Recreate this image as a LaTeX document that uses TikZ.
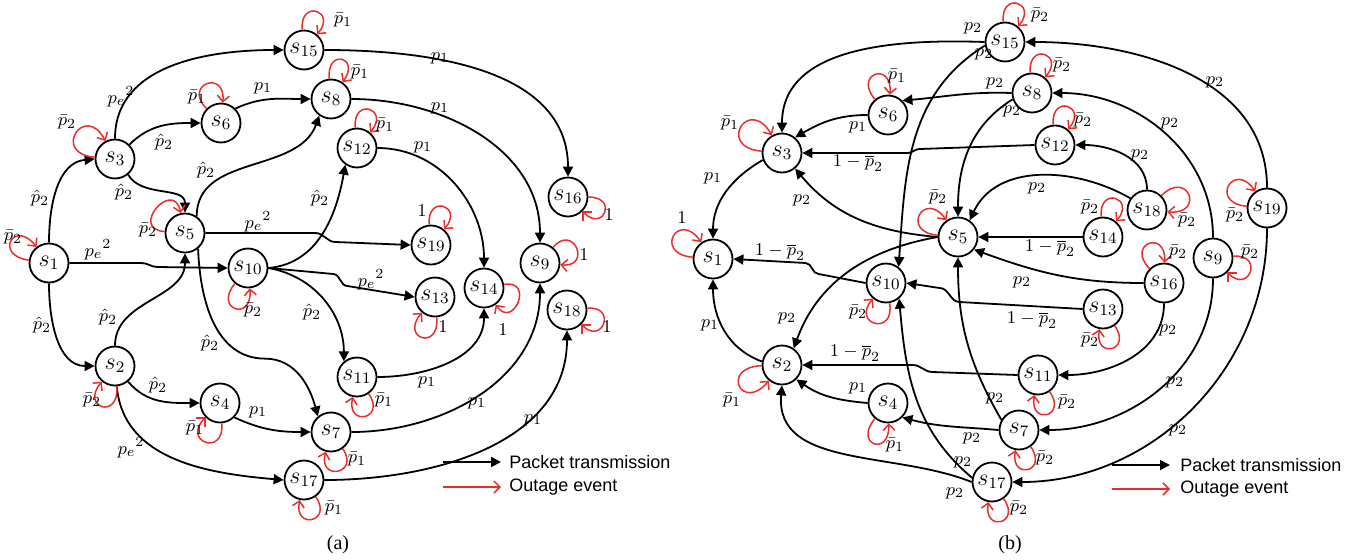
\documentclass[tikz,border=0pt]{standalone}
\usepackage{fontspec}
\newfontfamily\legendfont{Liberation Sans}
\newfontfamily\capfont{Liberation Serif}
\usetikzlibrary{arrows.meta}
\definecolor{outred}{RGB}{235,45,45}
\newcommand\nodesize{\fontsize{12}{14}\selectfont}
\newcommand\labsize{\fontsize{9.5}{11}\selectfont}
\tikzset{
  st/.style={circle,draw,line width=0.9pt,minimum size=19.5pt,inner sep=0pt,font=\nodesize},
  pk/.style={line width=0.9pt,-{Triangle[length=5pt,width=5pt]}},
  og/.style={draw=outred,line width=0.75pt,-{Straight Barb[length=3pt,width=6pt]}},
  lbl/.style={font=\labsize,inner sep=0pt},
  legtext/.style={anchor=west,inner sep=0pt,font=\legendfont\fontsize{9}{11}\selectfont},
  capt/.style={inner sep=0pt,font=\capfont\fontsize{10}{12}\selectfont},
}
% self-loop: [control length]{node}{leaving angle}{arriving angle}
\newcommand\oloop[4][34]{\draw[og] (#2.#3) .. controls +(#3:#1) and +(#4:#1) .. (#2.#4);}
% edge label: {name}{x}{y}{math}
\newcommand\elab[4]{\node[lbl] (#1) at (#2,#3) {$#4$};}
% complement probability 1 - p-bar
\newcommand\onemp{1-\overline{p}_2}
\begin{document}
\begin{tikzpicture}[x=0.5pt,y=0.5pt]
\useasboundingbox (0,0) rectangle (1358,559);

% ---------------- panel (a) ----------------
\node[st] (a1) at (49,296) {$s_1$};
\node[st] (a2) at (115,193) {$s_2$};
\node[st] (a3) at (115,400) {$s_3$};
\node[st] (a4) at (220,156) {$s_4$};
\node[st] (a5) at (185,326) {$s_5$};
\node[st] (a6) at (221,436) {$s_6$};
\node[st] (a7) at (331,127) {$s_7$};
\node[st] (a8) at (331,460) {$s_8$};
\node[st] (a9) at (540,296) {$s_9$};
\node[st] (a10) at (248,291) {$s_{10}$};
\node[st] (a11) at (357,182) {$s_{11}$};
\node[st] (a12) at (357,411) {$s_{12}$};
\node[st] (a13) at (435,262) {$s_{13}$};
\node[st] (a14) at (484,271) {$s_{14}$};
\node[st] (a15) at (304,509) {$s_{15}$};
\node[st] (a16) at (568,362) {$s_{16}$};
\node[st] (a17) at (304,79) {$s_{17}$};
\node[st] (a18) at (567,249) {$s_{18}$};
\node[st] (a19) at (431,314) {$s_{19}$};

\draw[pk] (a1.north) to[out=90,in=185] (a3.west);
\draw[pk] (a1.south) to[out=-90,in=180] (a2.west);
\draw[pk] (a1.east) -- ++(72,0) to[out=0,in=180] ++(16,-4) -- (a10.west);
\draw[pk] (a3.north) to[out=90,in=180] (a15.west);
\draw[pk] (a3.45) to[out=45,in=180] (a6.west);
\draw[pk] (a3.-50) to[out=-60,in=90] (a5.north);
\draw[pk] (a6.45) to[out=25,in=180] (a8.west);
\draw[pk] (a5.55) to[out=90,in=-110] (a8.235);
\draw[pk] (a5.east) -- ++(110,0) to[out=0,in=180] ++(20,-9) -- (a19.west);
\draw[pk] (a5.-50) to[out=-88,in=180] ++(67,-110) to[out=0,in=105] (a7.130);
\draw[pk] (a2.north) to[out=90,in=-90] (a5.south);
\draw[pk] (a2.-50) to[out=-50,in=180] (a4.west);
\draw[pk] (a2.-85) to[out=-85,in=175] (a17.west);
\draw[pk] (a4.-45) to[out=-25,in=180] (a7.west);
\draw[pk] (a10.east) to[out=5,in=-100] (a12.235);
\draw[pk] (a10.east) -- ++(65,-6) to[out=-5,in=180] ++(14,-12) -- (a13.west);
\draw[pk] (a10.east) to[out=-10,in=90] (a11.130);
\draw[pk] (a11.east) to[out=0,in=-90] (a14.south);
\draw[pk] (a12.east) to[out=0,in=90] (a14.north);
\draw[pk] (a15.east) to[out=0,in=90] (a16.north);
\draw[pk] (a8.east) to[out=0,in=90] (a9.north);
\draw[pk] (a7.east) to[out=0,in=-90] (a9.south);
\draw[pk] (a17.east) to[out=0,in=-90] (a18.south);

\oloop[36]{a1}{172}{128}
\oloop[44]{a3}{175}{118}
\oloop[36]{a5}{176}{102}
\oloop{a6}{135}{85}
\oloop[31]{a15}{95}{50}
\oloop[31]{a8}{95}{55}
\oloop[31]{a12}{95}{50}
\oloop[30]{a16}{0}{-45}
\oloop[31]{a19}{95}{50}
\oloop[32]{a9}{50}{-5}
\oloop{a10}{-130}{-85}
\oloop{a2}{-85}{-130}
\oloop{a4}{-85}{-135}
\oloop[31]{a7}{-55}{-105}
\oloop[31]{a11}{-55}{-102}
\oloop[31]{a17}{-55}{-102}
\oloop{a13}{-85}{-130}
\oloop[31]{a14}{10}{-55}
\oloop[30]{a18}{5}{-45}

\elab{la1}{13}{322}{\bar{p}_2}
\elab{la2}{40}{361}{\hat{p}_2}
\elab{la3}{98}{309}{{p_e}^2}
\elab{la4}{42}{234}{\hat{p}_2}
\elab{la5}{67}{437}{\bar{p}_2}
\elab{la6}{121}{462}{{p_e}^2}
\elab{la7}{164}{417}{\hat{p}_2}
\elab{la8}{124}{367}{\hat{p}_2}
\elab{la9}{197}{462}{\bar{p}_1}
\elab{la10}{263}{471}{p_1}
\elab{la11}{343}{539}{\bar{p}_1}
\elab{la12}{440}{501}{p_1}
\elab{la13}{360}{487}{\bar{p}_1}
\elab{la14}{440}{451}{p_1}
\elab{la15}{385}{434}{\bar{p}_1}
\elab{la16}{423}{412}{p_1}
\elab{la17}{206}{389}{\hat{p}_2}
\elab{la18}{148}{329}{\bar{p}_2}
\elab{la19}{258}{337}{{p_e}^2}
\elab{la20}{320}{361}{\hat{p}_2}
\elab{la21}{422}{348}{1}
\elab{la22}{609}{344}{1}
\elab{la23}{584}{304}{1}
\elab{la24}{253}{249}{\bar{p}_2}
\elab{la25}{371}{279}{{p_e}^2}
\elab{la26}{312}{247}{\hat{p}_2}
\elab{la27}{210}{216}{\hat{p}_2}
\elab{la28}{108}{242}{\hat{p}_2}
\elab{la29}{158}{174}{\hat{p}_2}
\elab{la30}{92}{159}{\bar{p}_2}
\elab{la31}{131}{111}{{p_e}^2}
\elab{la32}{258}{147}{p_1}
\elab{la33}{195}{131}{\bar{p}_1}
\elab{la34}{443}{232}{1}
\elab{la35}{503}{229}{1}
\elab{la36}{607}{232}{1}
\elab{la37}{427}{177}{p_1}
\elab{la38}{384}{159}{\bar{p}_1}
\elab{la39}{477}{156}{p_1}
\elab{la40}{357}{100}{\bar{p}_1}
\elab{la41}{533}{139}{p_1}
\elab{la42}{334}{51}{\bar{p}_1}

\coordinate (lgA1) at (443,97);
\coordinate (lgA2) at (501,97);
\coordinate (lgA3) at (443,72);
\coordinate (lgA4) at (501,72);
\draw[pk] (lgA1) -- (lgA2);
\draw[og] (lgA3) -- (lgA4);
\node[legtext] (lgAt) at (509,97) {Packet transmission};
\node[legtext] (lgAo) at (509,72) {Outage event};
\node[capt] (capA) at (338,14) {(a)};

% ---------------- panel (b) ----------------
\node[st] (b1) at (713,300) {$s_1$};
\node[st] (b2) at (782,194) {$s_2$};
\node[st] (b3) at (782,406) {$s_3$};
\node[st] (b4) at (888,156) {$s_4$};
\node[st] (b5) at (958,322) {$s_5$};
\node[st] (b6) at (888,444) {$s_6$};
\node[st] (b7) at (1019,129) {$s_7$};
\node[st] (b8) at (1032,466) {$s_8$};
\node[st] (b9) at (1213,301) {$s_9$};
\node[st] (b10) at (886,276) {$s_{10}$};
\node[st] (b11) at (1038,184) {$s_{11}$};
\node[st] (b12) at (1055,414) {$s_{12}$};
\node[st] (b13) at (1103,250) {$s_{13}$};
\node[st] (b14) at (1103,322) {$s_{14}$};
\node[st] (b15) at (1005,517) {$s_{15}$};
\node[st] (b16) at (1164,276) {$s_{16}$};
\node[st] (b17) at (992,77) {$s_{17}$};
\node[st] (b18) at (1147,349) {$s_{18}$};
\node[st] (b19) at (1267,351) {$s_{19}$};

\draw[pk] (b3.200) to[out=210,in=90] (b1.north);
\draw[pk] (b2.170) to[out=160,in=-90] (b1.south);
\draw[pk] (b15.west) to[out=178,in=90] (b3.north);
\draw[pk] (b15.190) to[out=212,in=86] (b10.52);
\draw[pk] (b19.north) to[out=90,in=0] (b15.east);
\draw[pk] (b19.south) to[out=-90,in=0] (b17.east);
\draw[pk] (b8.west) to[out=178,in=5] (b6.45);
\draw[pk] (b8.198) to[out=212,in=90] (b5.north);
\draw[pk] (b9.north) to[out=90,in=0] (b8.east);
\draw[pk] (b9.south) to[out=-90,in=0] (b7.east);
\draw[pk] (b6.west) to[out=180,in=30] (b3.50);
\draw[pk] (b12.west) -- ++(-115,-4) to[out=180,in=0] ++(-12,-4) -- (b3.east);
\draw[pk] (b18.north) to[out=90,in=0] (b12.east);
\draw[pk] (b18.145) to[out=150,in=65] (b5.55);
\draw[pk] (b14.west) -- (b5.east);
\draw[pk] (b5.west) to[out=175,in=-50] (b3.-50);
\draw[pk] (b5.west) to[out=190,in=70] (b2.55);
\draw[pk] (b16.west) to[out=180,in=-20] (b5.-38);
\draw[pk] (b16.south) to[out=-90,in=0] (b11.east);
\draw[pk] (b13.west) -- ++(-123,7) to[out=180,in=0] ++(-20,14) -- (b10.east);
\draw[pk] (b10.west) -- ++(-47,9) to[out=180,in=0] ++(-13,11) -- (b1.east);
\draw[pk] (b11.west) -- ++(-85,3) to[out=180,in=0] ++(-20,7) -- (b2.east);
\draw[pk] (b7.150) to[out=120,in=-90] (b5.south);
\draw[pk] (b7.west) to[out=175,in=-15] (b4.-45);
\draw[pk] (b4.west) to[out=175,in=-35] (b2.-45);
\draw[pk] (b17.168) to[out=140,in=-85] (b10.-50);
\draw[pk] (b17.west) to[out=158,in=-95] (b2.south);

\oloop[40]{b1}{175}{125}
\oloop[46]{b3}{175}{120}
\oloop{b6}{130}{85}
\oloop[31]{b15}{95}{50}
\oloop[31]{b8}{95}{50}
\oloop[31]{b12}{95}{50}
\oloop[38]{b5}{175}{125}
\oloop[31]{b14}{95}{50}
\oloop[38]{b18}{45}{-5}
\oloop[38]{b19}{175}{125}
\oloop[31]{b9}{5}{-45}
\oloop{b16}{135}{88}
\oloop[31]{b13}{-55}{-100}
\oloop{b10}{-80}{-130}
\oloop[31]{b11}{-55}{-100}
\oloop[42]{b2}{-178}{-130}
\oloop{b4}{-130}{-88}
\oloop[31]{b7}{-55}{-100}
\oloop[31]{b17}{-55}{-100}

\elab{lb1}{682}{341}{1}
\elab{lb2}{713}{381}{p_1}
\elab{lb3}{730}{436}{\bar{p}_1}
\elab{lb4}{710}{234}{p_1}
\elab{lb5}{732}{159}{\bar{p}_1}
\elab{lb6}{973}{531}{p_2}
\elab{lb7}{984}{505}{p_2}
\elab{lb8}{1040}{544}{\bar{p}_2}
\elab{lb9}{1215}{477}{p_2}
\elab{lb10}{1235}{344}{\bar{p}_2}
\elab{lb11}{1178}{129}{p_2}
\elab{lb12}{995}{476}{p_2}
\elab{lb13}{1012}{448}{p_2}
\elab{lb14}{1062}{494}{\bar{p}_2}
\elab{lb15}{1170}{436}{p_2}
\elab{lb16}{1250}{307}{\bar{p}_2}
\elab{lb17}{1175}{177}{p_2}
\elab{lb18}{858}{432}{p_1}
\elab{lb19}{897}{483}{\bar{p}_1}
\elab{lb20}{858}{396}{\onemp}
\elab{lb21}{1083}{439}{\bar{p}_2}
\elab{lb22}{1140}{404}{p_2}
\elab{lb23}{1037}{371}{p_2}
\elab{lb24}{1187}{339}{\bar{p}_2}
\elab{lb25}{1050}{311}{\onemp}
\elab{lb26}{1090}{352}{\bar{p}_2}
\elab{lb27}{802}{359}{p_2}
\elab{lb28}{787}{241}{p_2}
\elab{lb29}{938}{362}{\bar{p}_2}
\elab{lb30}{1022}{277}{p_2}
\elab{lb31}{1168}{229}{p_2}
\elab{lb32}{1178}{307}{\bar{p}_2}
\elab{lb33}{1032}{239}{\onemp}
\elab{lb34}{1090}{219}{\bar{p}_2}
\elab{lb35}{780}{307}{\onemp}
\elab{lb36}{858}{247}{\bar{p}_2}
\elab{lb37}{855}{206}{\onemp}
\elab{lb38}{1067}{157}{\bar{p}_2}
\elab{lb39}{995}{161}{p_2}
\elab{lb40}{972}{121}{p_2}
\elab{lb41}{1045}{101}{\bar{p}_2}
\elab{lb42}{858}{171}{p_1}
\elab{lb43}{895}{114}{\bar{p}_1}
\elab{lb44}{963}{97}{p_2}
\elab{lb45}{955}{66}{p_2}
\elab{lb46}{1019}{51}{\bar{p}_2}

\coordinate (lgB1) at (1112,94);
\coordinate (lgB2) at (1170,94);
\coordinate (lgB3) at (1112,70);
\coordinate (lgB4) at (1170,70);
\draw[pk] (lgB1) -- (lgB2);
\draw[og] (lgB3) -- (lgB4);
\node[legtext] (lgBt) at (1180,94) {Packet transmission};
\node[legtext] (lgBo) at (1180,70) {Outage event};
\node[capt] (capB) at (1010,14) {(b)};
\end{tikzpicture}
\end{document}
